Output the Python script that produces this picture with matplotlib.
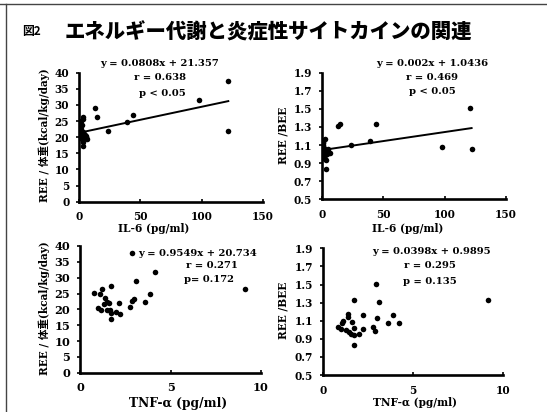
import matplotlib
matplotlib.use("Agg")
import matplotlib.pyplot as plt
from matplotlib.lines import Line2D
import numpy as np

# IL-6 vs REE/body weight
il6_a = [121.2, 121.7, 98.0, 44.3, 38.9, 23.9, 13.0, 14.4, 3.5, 3.0, 1.6, 2.2,
         0.8, 1.5, 3.0, 4.2, 4.9, 6.3, 5.5, 3.5, 3.5, 2.5, 0.5, 1.2, 4.0, 6.0]
ree_a = [37.4, 22.0, 31.5, 27.0, 24.7, 22.0, 29.0, 26.3, 26.3, 25.5, 25.0, 23.8,
         23.0, 22.5, 21.7, 21.0, 20.7, 19.3, 20.0, 18.6, 17.3, 19.5, 21.0, 20.2, 20.5, 20.3]

# IL-6 vs REE/BEE
il6_b = [120.7, 122.0, 98.2, 44.2, 39.3, 23.8, 13.5, 14.8, 3.5, 2.7, 1.3, 1.1,
         5.4, 6.8, 2.7, 0.5, 1.8, 3.0, 4.0, 2.2, 0.8, 1.5, 3.6, 5.0, 2.4, 1.0]
bee_b = [1.51, 1.06, 1.08, 1.33, 1.15, 1.10, 1.31, 1.33, 0.83, 1.17, 1.13, 1.10,
         1.03, 1.01, 0.95, 1.09, 1.05, 1.02, 1.00, 0.98, 1.04, 1.07, 0.93, 1.06, 0.99, 1.12]

# TNF-a vs REE/body weight
tnf_c = [2.86, 4.15, 3.08, 1.70, 0.77, 1.11, 1.20, 1.38, 3.87, 1.48, 1.60, 1.35, 2.18,
         3.00, 2.90, 3.60, 2.77, 0.98, 1.16, 1.48, 1.66, 1.70, 1.97, 2.21, 1.70, 9.13]
ree_c = [37.7, 31.7, 29.0, 27.4, 25.3, 24.8, 26.3, 23.5, 24.9, 22.2, 22.1, 21.7, 22.1,
         23.3, 22.5, 22.2, 20.6, 20.3, 19.8, 19.8, 19.8, 18.7, 19.3, 18.5, 17.0, 26.4]

# TNF-a vs REE/BEE
tnf_d = [2.93, 1.73, 3.12, 1.42, 1.38, 2.21, 3.02, 3.91, 4.22, 3.60, 1.14, 1.05, 1.60,
         0.83, 1.01, 1.27, 1.46, 1.73, 2.21, 2.80, 2.90, 1.57, 1.75, 2.01, 1.73, 9.17]
bee_d = [1.51, 1.33, 1.31, 1.17, 1.14, 1.16, 1.13, 1.16, 1.08, 1.07, 1.10, 1.07, 1.09,
         1.03, 1.01, 1.00, 0.98, 1.02, 1.01, 1.03, 0.99, 0.95, 0.94, 0.95, 0.83, 1.33]

fit_a = (0.0808, 21.357)
fit_b = (0.002, 1.0436)

SERIF = "DejaVu Serif"
CJK = "Noto Sans CJK JP"

fig = plt.figure(figsize=(5.47, 4.12), dpi=100)
W, H = 547, 412


def box(l, r, t, b):
    return [l / W, 1 - b / H, (r - l) / W, (b - t) / H]


def style(ax, xlim, xticks, ylim, yticks, yfmt, fs):
    ax.set_xlim(*xlim)
    ax.set_ylim(*ylim)
    ax.set_xticks(xticks)
    ax.set_yticks(yticks)
    ax.set_yticklabels([yfmt.format(v) for v in yticks])
    for s in ("top", "right"):
        ax.spines[s].set_visible(False)
    for s in ("left", "bottom"):
        ax.spines[s].set_linewidth(1.9)
    ax.tick_params(axis="y", direction="out", length=2.5, width=1.2, pad=4.5)
    ax.tick_params(axis="x", direction="in", length=2.5, width=1.2, pad=7)
    for lab in ax.get_xticklabels() + ax.get_yticklabels():
        lab.set_fontfamily(SERIF)
        lab.set_fontweight("bold")
        lab.set_fontsize(fs)


def fit_line(ax, xs, coef):
    x = np.array([min(xs), max(xs)])
    ax.plot(x, coef[0] * x + coef[1], color="black", lw=1.4)


tfont = dict(family=SERIF, weight="bold", fontsize=7.2, ha="center", va="center")
MS = 16

# panel 1
ax1 = fig.add_axes(box(79, 263, 72.7, 201.7))
ax1.scatter(il6_a, ree_a, s=MS, color="black", zorder=3, linewidths=0)
fit_line(ax1, il6_a, fit_a)
style(ax1, (0, 150), [0, 50, 100, 150], (0, 40), range(0, 41, 5), "{:d}", 7.6)

# panel 2
ax2 = fig.add_axes(box(321.7, 506, 72.7, 199.3))
ax2.scatter(il6_b, bee_b, s=MS, color="black", zorder=3, linewidths=0)
fit_line(ax2, il6_b, fit_b)
style(ax2, (0, 150), [0, 50, 100, 150], (0.5, 1.9), np.arange(0.5, 1.91, 0.2), "{:.1f}", 7.6)

# panel 3
ax3 = fig.add_axes(box(80, 261, 246, 372.7))
ax3.scatter(tnf_c, ree_c, s=MS, color="black", zorder=3, linewidths=0)
style(ax3, (0, 10), [0, 5, 10], (0, 40), range(0, 41, 5), "{:d}", 8.2)

# panel 4
ax4 = fig.add_axes(box(322.7, 503.3, 248.3, 375))
ax4.scatter(tnf_d, bee_d, s=MS, color="black", zorder=3, linewidths=0)
style(ax4, (0, 10), [0, 5, 10], (0.5, 1.9), np.arange(0.5, 1.91, 0.2), "{:.1f}", 7.6)

# annotations (pixel positions)
notes = [
    (160, 64, "y = 0.0808x + 21.357"), (160, 78, "r = 0.638"), (162, 93, "p < 0.05"),
    (432, 63, "y = 0.002x + 1.0436"), (432, 77, "r = 0.469"), (432, 92, "p < 0.05"),
    (198, 253, "y = 0.9549x + 20.734"), (212, 265, "r = 0.271"), (209, 280, "p= 0.172"),
    (431, 252, "y = 0.0398x + 0.9895"), (430, 265, "r = 0.295"), (430, 282, "p = 0.135"),
]
for x, y, s in notes:
    fig.text(x / W, 1 - y / H, s, **tfont)

lab = dict(family=[SERIF, CJK], weight="bold", fontsize=7.6, ha="center", va="center")
fig.text(44 / W, 1 - 135 / H, "REE / 体重(kcal/kg/day)", rotation=90, **lab)
fig.text(44 / W, 1 - 308 / H, "REE / 体重(kcal/kg/day)", rotation=90, **lab)
fig.text(283 / W, 1 - 135 / H, "REE /BEE", rotation=90, **lab)
fig.text(283 / W, 1 - 310 / H, "REE /BEE", rotation=90, **lab)
fig.text(154 / W, 1 - 228 / H, "IL-6 (pg/ml)", **lab)
fig.text(408 / W, 1 - 228 / H, "IL-6 (pg/ml)", **lab)
fig.text(178 / W, 1 - 403 / H, "TNF-α (pg/ml)", **{**lab, "fontsize": 8.8})
fig.text(415 / W, 1 - 403 / H, "TNF-α (pg/ml)", **lab)

# title
fig.text(22 / W, 1 - 32 / H, "図2", family=[CJK, "DejaVu Sans"], weight="bold",
         fontsize=8.5, ha="left", va="center")
fig.text(65 / W, 1 - 32 / H, "エネルギー代謝と炎症性サイトカインの関連", family=CJK,
         weight="black", fontsize=14.7, ha="left", va="center")

# frame lines (top and left)
fig.add_artist(Line2D([0, 1], [1 - 4 / H, 1 - 4 / H], color="#444444", lw=1.0))
fig.add_artist(Line2D([6 / W, 6 / W], [0, 1 - 4 / H], color="#444444", lw=1.0))

fig.savefig("out.png", dpi=100)
